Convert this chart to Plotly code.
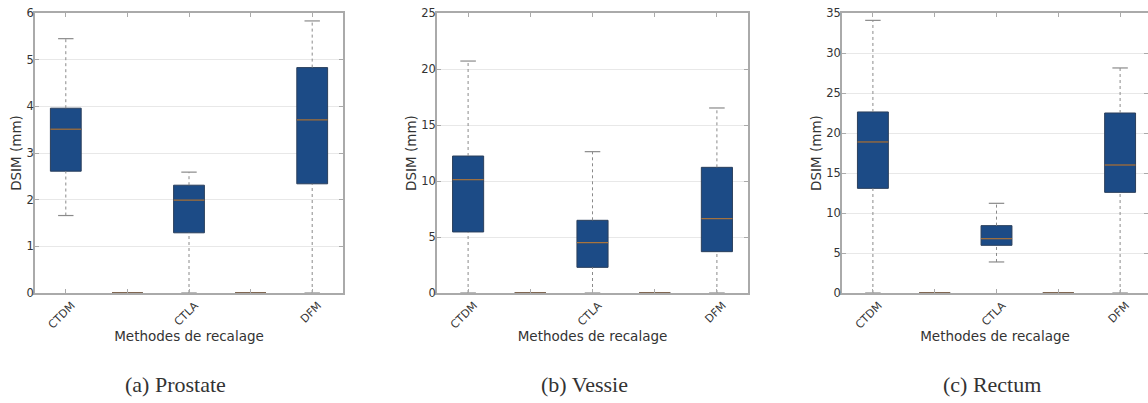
import plotly.graph_objects as go

# ---------------- data ----------------
positions = [1, 2, 3, 4, 5]
tick_labels = ["CTDM", "", "CTLA", "", "DFM"]

prostate_whislo = [1.66, 0, 0.0, 0, 0.0]
prostate_q1 = [2.61, 0, 1.29, 0, 2.34]
prostate_med = [3.51, 0, 1.99, 0, 3.71]
prostate_q3 = [3.96, 0, 2.31, 0, 4.83]
prostate_whishi = [5.45, 0, 2.59, 0, 5.83]

vessie_whislo = [0.0, 0, 0.0, 0, 0.0]
vessie_q1 = [5.45, 0, 2.29, 0, 3.69]
vessie_med = [10.12, 0, 4.49, 0, 6.64]
vessie_q3 = [12.23, 0, 6.49, 0, 11.22]
vessie_whishi = [20.71, 0, 12.62, 0, 16.52]

rectum_whislo = [0.0, 0, 3.88, 0, 0.0]
rectum_q1 = [13.08, 0, 5.96, 0, 12.58]
rectum_med = [18.88, 0, 6.79, 0, 16.0]
rectum_q3 = [22.63, 0, 8.42, 0, 22.5]
rectum_whishi = [34.08, 0, 11.21, 0, 28.13]

captions = ["(a) Prostate", "(b) Vessie", "(c) Rectum"]
y_maxes = [6, 25, 35]
y_dticks = [1, 5, 5]
x_title = "Methodes de recalage"
y_title = "DSIM (mm)"

panels = [
    (prostate_whislo, prostate_q1, prostate_med, prostate_q3, prostate_whishi),
    (vessie_whislo, vessie_q1, vessie_med, vessie_q3, vessie_whishi),
    (rectum_whislo, rectum_q1, rectum_med, rectum_q3, rectum_whishi),
]

# ---------------- layout constants ----------------
W, H = 1148, 403
x_domains = [(35 / W, 343 / W), (437 / W, 748 / W), (842 / W, 1.0)]
x_ranges = [[0.5, 5.5], [0.5, 5.5], [0.5, 0.5 + 306 / 61.8]]
y_domain = (1 - 293 / H, 1 - 13 / H)
caption_x = [175 / W, 584 / W, 992 / W]

BOX_FILL = "#1c4b86"
BOX_LINE = "#2a3f5c"
MED_COLOR = "#a8743e"
WHISK = "#8a8a8a"
FRAME = "#aaaaaa"
TEXT = "#333333"
BOX_W = 0.5
CAP_W = 0.25

fig = go.Figure()

for i, (wlo, q1, med, q3, whi) in enumerate(panels):
    xa = "x" if i == 0 else f"x{i+1}"
    ya = "y" if i == 0 else f"y{i+1}"

    # whiskers (dashed)
    wx, wy = [], []
    for p, a, b, c, d in zip(positions, wlo, q1, q3, whi):
        if d == 0 and a == 0 and b == 0:
            continue
        wx += [p, p, None, p, p, None]
        wy += [a, b, None, c, d, None]
    fig.add_trace(go.Scatter(x=wx, y=wy, mode="lines", xaxis=xa, yaxis=ya,
                             line=dict(color=WHISK, width=1, dash="3px,3px"),
                             hoverinfo="skip", showlegend=False))
    # caps
    cx, cy = [], []
    for p, a, b, d in zip(positions, wlo, q1, whi):
        if d == 0 and a == 0 and b == 0:
            continue
        cx += [p - CAP_W / 2, p + CAP_W / 2, None, p - CAP_W / 2, p + CAP_W / 2, None]
        cy += [a, a, None, d, d, None]
    fig.add_trace(go.Scatter(x=cx, y=cy, mode="lines", xaxis=xa, yaxis=ya,
                             line=dict(color=WHISK, width=1.2),
                             hoverinfo="skip", showlegend=False))
    # boxes
    fig.add_trace(go.Box(x=positions, q1=q1, median=med, q3=q3,
                         lowerfence=q1, upperfence=q3,
                         width=BOX_W, whiskerwidth=0,
                         fillcolor=BOX_FILL, line=dict(color=BOX_LINE, width=1),
                         xaxis=xa, yaxis=ya, hoverinfo="skip", showlegend=False,
                         boxpoints=False))
    # medians
    mx, my = [], []
    for p, m in zip(positions, med):
        mx += [p - BOX_W / 2, p + BOX_W / 2, None]
        my += [m, m, None]
    fig.add_trace(go.Scatter(x=mx, y=my, mode="lines", xaxis=xa, yaxis=ya,
                             line=dict(color=MED_COLOR, width=1.2),
                             hoverinfo="skip", showlegend=False))

    xkey = "xaxis" if i == 0 else f"xaxis{i+1}"
    ykey = "yaxis" if i == 0 else f"yaxis{i+1}"
    fig.update_layout(**{
        xkey: dict(domain=list(x_domains[i]), range=x_ranges[i], anchor=ya,
                   automargin=False,
                   tickvals=positions, ticktext=tick_labels, tickangle=-45,
                   ticklabelshift=6,
                   ticks="inside", ticklen=4, tickcolor=FRAME, mirror="ticks",
                   showline=True, linecolor=FRAME, linewidth=1.5,
                   showgrid=False, zeroline=False,
                   tickfont=dict(family="DejaVu Sans", size=11, color=TEXT),
                   title=dict(text=x_title, standoff=0,
                              font=dict(family="DejaVu Sans", size=13.5, color=TEXT))),
        ykey: dict(domain=list(y_domain), range=[0, y_maxes[i]], anchor=xa,
                   automargin=False,
                   dtick=y_dticks[i], tick0=0,
                   ticklabelstandoff=-3,
                   ticks="inside", ticklen=4, tickcolor=FRAME, mirror="ticks",
                   showline=True, linecolor=FRAME, linewidth=1.5,
                   showgrid=True, gridcolor="#e8e8e8", gridwidth=1, zeroline=False,
                   tickfont=dict(family="DejaVu Sans", size=11.5, color=TEXT),
                   title=dict(text=y_title, standoff=2,
                              font=dict(family="DejaVu Sans", size=13.5, color=TEXT))),
    })

for i, cap in enumerate(captions):
    fig.add_annotation(text=cap, x=caption_x[i], y=1 - 384 / H, xref="paper", yref="paper",
                       showarrow=False, xanchor="center", yanchor="middle",
                       font=dict(family="Liberation Serif", size=22, color=TEXT))

fig.update_layout(width=W, height=H, margin=dict(l=0, r=0, t=0, b=0),
                  paper_bgcolor="white", plot_bgcolor="white", showlegend=False)

fig.write_html("out.html", config={"displayModeBar": False},
               post_script="document.body.style.margin='0';document.body.style.overflow='hidden';")
